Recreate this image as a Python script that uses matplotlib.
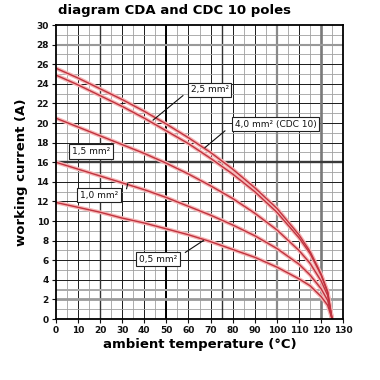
import matplotlib
matplotlib.use("Agg")
import matplotlib.pyplot as plt
import numpy as np

# ---- data ----
temps = [0, 10, 20, 30, 40, 50, 60, 70, 80, 90, 100, 110, 115, 120, 123, 125]
i_40 = [25.6, 24.6, 23.5, 22.4, 21.2, 19.9, 18.5, 17.0, 15.3, 13.4, 11.3, 8.6, 6.9, 4.6, 2.8, 0.0]
i_25 = [24.9, 23.9, 22.8, 21.7, 20.5, 19.2, 17.9, 16.4, 14.8, 13.0, 10.9, 8.3, 6.7, 4.5, 2.7, 0.0]
i_15 = [20.5, 19.6, 18.7, 17.8, 16.9, 15.9, 14.8, 13.6, 12.3, 10.8, 9.1, 7.0, 5.7, 3.9, 2.4, 0.0]
i_10 = [16.0, 15.3, 14.6, 13.9, 13.2, 12.4, 11.5, 10.6, 9.6, 8.5, 7.2, 5.6, 4.5, 3.1, 1.9, 0.0]
i_05 = [11.9, 11.4, 10.9, 10.3, 9.8, 9.2, 8.6, 7.9, 7.1, 6.3, 5.3, 4.1, 3.4, 2.3, 1.4, 0.0]

series = [i_40, i_25, i_15, i_10, i_05]
labels = ["4,0 mm\u00b2 (CDC 10)", "2,5 mm\u00b2", "1,5 mm\u00b2", "1,0 mm\u00b2", "0,5 mm\u00b2"]
# label box centre and leader target (data coords)
label_pos = [(99.4, 19.9), (69.6, 23.4), (15.8, 17.1), (19.5, 12.65), (46.2, 6.1)]
leader_from = [(76.5, 19.2), (57.5, 22.8), None, (32.0, 13.3), (58.6, 6.8)]
leader_to = [(67.5, 17.5), (44.0, 20.3), None, (32.5, 13.8), (66.7, 8.0)]

x_ticks = list(range(0, 131, 10))
y_ticks = list(range(0, 31, 2))

fig = plt.figure(figsize=(3.8, 3.8), dpi=100)
ax = fig.add_axes([0.147, 0.1605, 0.756, 0.7735])
ax.set_xlim(0, 130)
ax.set_ylim(0, 30)

# grid
for xv in np.arange(5, 130, 10):
    ax.axvline(xv, color="#a0a0a0", lw=0.6, zorder=1)
for xv in np.arange(10, 130, 10):
    ax.axvline(xv, color="#1a1a1a", lw=0.7, zorder=1)
for yv in np.arange(1, 30, 2):
    ax.axhline(yv, color="#a0a0a0", lw=0.6, zorder=1)
for yv in np.arange(2, 30, 2):
    ax.axhline(yv, color="#1a1a1a", lw=0.7, zorder=1)
for xv, c, w in [(20, "#333333", 1.0), (50, "#000000", 1.4), (75, "#333333", 1.0),
                 (100, "#8a8a8a", 1.6), (120, "#7a7a7a", 1.9)]:
    ax.axvline(xv, color=c, lw=w, zorder=1)
for yv, c, w in [(16, "#3a3a3a", 1.7), (2, "#9a9a9a", 2.0), (3, "#aaaaaa", 1.4), (28, "#999999", 1.5)]:
    ax.axhline(yv, color=c, lw=w, zorder=1)

# curves
for s in series:
    ax.plot(temps, s, color="#f6b6b6", lw=2.8, solid_capstyle="round", zorder=2)
for s in series:
    ax.plot(temps, s, color="#c0323e", lw=1.0, zorder=3)

# labels
for lab, pos, lf, lt in zip(labels, label_pos, leader_from, leader_to):
    if lf is not None:
        ax.plot([lf[0], lt[0]], [lf[1], lt[1]], color="#111111", lw=0.8, zorder=4)
    ax.text(pos[0], pos[1], lab, ha="center", va="center", fontsize=6.5,
            color="#111111", zorder=5,
            bbox=dict(boxstyle="square,pad=0.3", fc="white", ec="#222222", lw=0.8))

for sp in ax.spines.values():
    sp.set_color("black")
    sp.set_linewidth(1.3)
    sp.set_zorder(6)

ax.set_xticks(x_ticks)
ax.set_yticks(y_ticks)
ax.tick_params(axis="both", labelsize=6.5, length=3, width=0.8, pad=2, colors="#111111")
for t in ax.get_xticklabels() + ax.get_yticklabels():
    t.set_fontweight("bold")

ax.set_xlabel("ambient temperature (\u00b0C)", fontsize=9.5, fontweight="bold", labelpad=2)
ax.set_ylabel("working current (A)", fontsize=9.5, fontweight="bold", labelpad=6)
fig.text(0.153, 0.955, "diagram CDA and CDC 10 poles", fontsize=9.5, fontweight="bold",
         ha="left", va="bottom")

fig.savefig("out.png", dpi=100, facecolor="white")
